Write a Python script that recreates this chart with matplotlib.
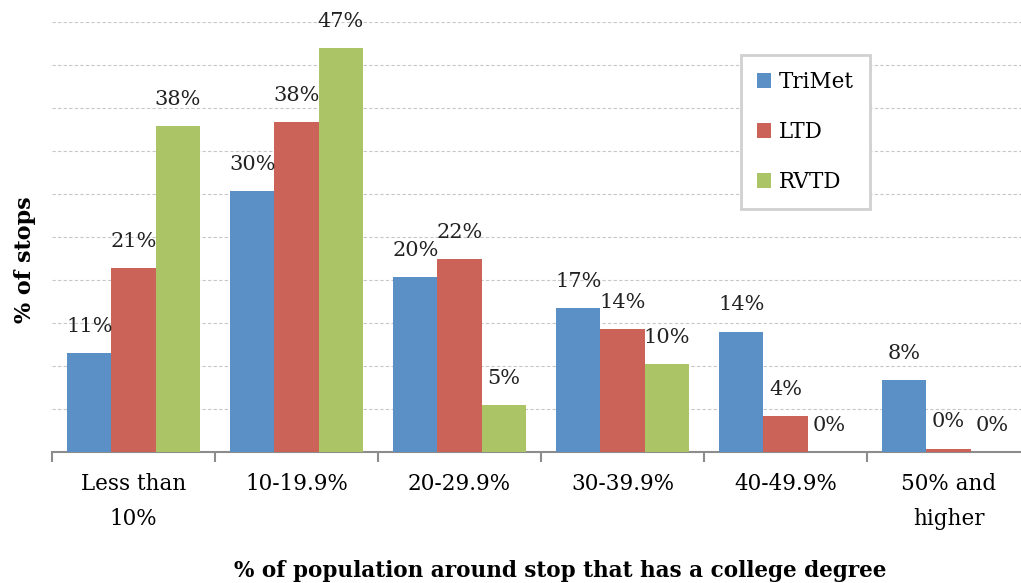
import numpy as np
import matplotlib.pyplot as plt
from matplotlib.patches import Patch

# Data
categories = ["Less than\n10%", "10-19.9%", "20-29.9%", "30-39.9%", "40-49.9%", "50% and\nhigher"]
series = ["TriMet", "LTD", "RVTD"]
trimet = [11.5, 30.3, 20.3, 16.7, 14.0, 8.4]
ltd = [21.4, 38.4, 22.4, 14.3, 4.2, 0.4]
rvtd = [37.9, 47.0, 5.5, 10.2, 0.0, 0.0]
trimet_labels = ["11%", "30%", "20%", "17%", "14%", "8%"]
ltd_labels = ["21%", "38%", "22%", "14%", "4%", "0%"]
rvtd_labels = ["38%", "47%", "5%", "10%", "0%", "0%"]

colors = ["#5B90C6", "#CB6359", "#ABC466"]
font = "DejaVu Serif"

W, H = 1021, 583
fig = plt.figure(figsize=(W / 100, H / 100), dpi=100)
ax = fig.add_axes([52 / W, (H - 452) / H, (1030 - 52) / W, (452 - 22) / H])

x = np.arange(len(categories))
width = 0.27
values = [trimet, ltd, rvtd]
labels = [trimet_labels, ltd_labels, rvtd_labels]
for i, (vals, labs) in enumerate(zip(values, labels)):
    pos = x + (i - 1) * width
    ax.bar(pos, vals, width, color=colors[i], zorder=3)
    for px, v, t in zip(pos, vals, labs):
        ax.text(px, v + 3.1, t, ha="center", va="center", fontsize=15,
                family=font, color="#222222", zorder=4)

ax.set_xlim(-0.5, len(categories) - 0.5)
ax.set_ylim(0, 50)
ax.set_yticks(np.arange(5, 51, 5))
ax.yaxis.grid(True, linestyle=(0, (3, 2)), color="#C8C8C8", linewidth=0.8, zorder=0)
ax.tick_params(axis="y", length=0, labelleft=False)

ax.set_xticks(x)
ax.set_xticklabels(categories, fontsize=15.5, family=font, linespacing=1.8)
ax.set_xticks(np.arange(-0.5, len(categories), 1), minor=True)
ax.tick_params(axis="x", which="major", length=0, pad=15)
ax.tick_params(axis="x", which="minor", length=7, width=1.5, color="#8C8C8C")

for s in ["top", "right", "left"]:
    ax.spines[s].set_visible(False)
ax.spines["bottom"].set_color("#8C8C8C")
ax.spines["bottom"].set_linewidth(1.5)

fig.text(25 / W, 1 - 260 / H, "% of stops", rotation=90, ha="center", va="center",
         fontsize=16, fontweight="bold", family=font)
fig.text(560 / W, 1 - 571 / H, "% of population around stop that has a college degree",
         ha="center", va="center", fontsize=15.5, fontweight="bold", family=font)

handles = [Patch(facecolor=c, label=s) for c, s in zip(colors, series)]
leg = fig.legend(handles=handles, loc="upper left",
                 bbox_to_anchor=(741 / W, 1 - 55 / H), prop={"family": font, "size": 15.5},
                 handlelength=0.65, handleheight=0.65, handletextpad=0.35,
                 labelspacing=1.3, borderpad=0.75, borderaxespad=0, fancybox=False, framealpha=1)
leg.get_frame().set_edgecolor("#D0D0D0")
leg.get_frame().set_linewidth(2)

fig.savefig("out.png", dpi=100)
